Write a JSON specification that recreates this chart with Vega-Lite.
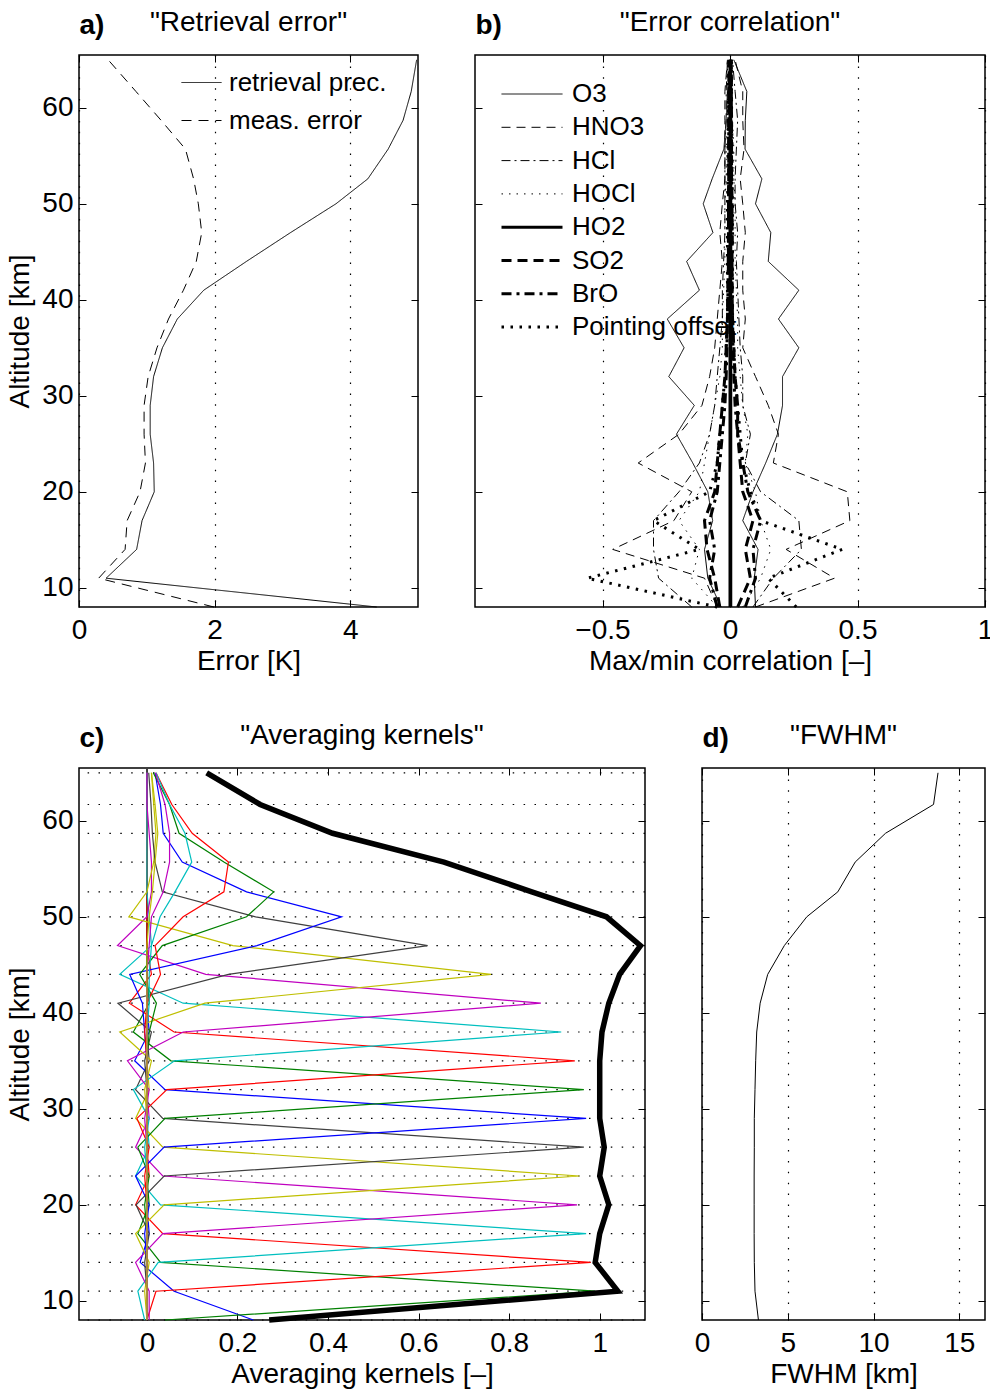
{
  "$schema": "https://vega.github.io/schema/vega-lite/v6.json",
  "background": "white",
  "padding": {"left": 6, "top": 8, "right": 2, "bottom": 5},
  "spacing": 45,
  "resolve": {"scale": {"strokeDash": "independent", "color": "independent"}, "legend": {"strokeDash": "independent"}},
  "config": {
    "font": "Liberation Sans",
    "view": {"stroke": "black", "strokeWidth": 1.5},
    "axis": {"domain": false, "labelFontSize": 28, "labelColor": "black", "titleFontSize": 28, "titleFontWeight": "normal", "titleColor": "black", "tickColor": "black", "tickSize": -7, "tickWidth": 1, "labelFlush": false, "labelOverlap": false, "grid": false, "gridColor": "black", "gridDash": [1.5, 9.4], "gridWidth": 1.2, "gridOpacity": 1},
    "axisBottom": {"labelPadding": 16, "titlePadding": 3},
    "axisLeft": {"labelPadding": 13, "titlePadding": 7},
    "title": {"fontSize": 28, "fontWeight": "normal", "color": "black", "anchor": "middle", "frame": "group", "offset": 0, "baseline": "alphabetic", "dy": 30},
    "legend": {"labelFontSize": 26, "labelColor": "black", "labelLimit": 400, "padding": 0, "symbolType": "stroke", "symbolStrokeColor": "black"}
  },
  "vconcat": [
    {
      "bounds": "flush",
      "spacing": 57,
      "resolve": {"scale": {"strokeDash": "independent"}, "legend": {"strokeDash": "independent"}},
      "hconcat": [
        {
          "width": 339, "height": 552,
          "title": {"text": "\"Retrieval error\""},
          "layer": [
            {
              "data": {"values": [
                {"t":"retrieval prec.","z":8,"e":4.39},{"t":"retrieval prec.","z":11,"e":0.40},{"t":"retrieval prec.","z":14,"e":0.85},{"t":"retrieval prec.","z":17,"e":0.93},{"t":"retrieval prec.","z":20,"e":1.11},{"t":"retrieval prec.","z":23,"e":1.10},{"t":"retrieval prec.","z":26,"e":1.05},{"t":"retrieval prec.","z":29,"e":1.05},{"t":"retrieval prec.","z":32,"e":1.10},{"t":"retrieval prec.","z":35,"e":1.23},{"t":"retrieval prec.","z":38,"e":1.45},{"t":"retrieval prec.","z":41,"e":1.84},{"t":"retrieval prec.","z":44,"e":2.47},{"t":"retrieval prec.","z":47,"e":3.12},{"t":"retrieval prec.","z":50,"e":3.79},{"t":"retrieval prec.","z":52.6,"e":4.26},{"t":"retrieval prec.","z":55.7,"e":4.56},{"t":"retrieval prec.","z":58.7,"e":4.78},{"t":"retrieval prec.","z":61.7,"e":4.90},{"t":"retrieval prec.","z":65,"e":4.98},
                {"t":"meas. error","z":8,"e":1.99},{"t":"meas. error","z":11,"e":0.29},{"t":"meas. error","z":14,"e":0.68},{"t":"meas. error","z":17,"e":0.71},{"t":"meas. error","z":20,"e":0.90},{"t":"meas. error","z":23,"e":0.98},{"t":"meas. error","z":26,"e":0.96},{"t":"meas. error","z":29,"e":0.96},{"t":"meas. error","z":32,"e":1.02},{"t":"meas. error","z":35,"e":1.15},{"t":"meas. error","z":38,"e":1.32},{"t":"meas. error","z":41,"e":1.54},{"t":"meas. error","z":44,"e":1.73},{"t":"meas. error","z":47,"e":1.81},{"t":"meas. error","z":50,"e":1.76},{"t":"meas. error","z":52.6,"e":1.69},{"t":"meas. error","z":55.7,"e":1.57},{"t":"meas. error","z":58.7,"e":1.21},{"t":"meas. error","z":61.7,"e":0.84},{"t":"meas. error","z":65,"e":0.43}
              ]},
              "mark": {"type": "line", "color": "black", "strokeWidth": 1},
              "encoding": {
                "x": {"field": "e", "type": "quantitative", "scale": {"domain": [0, 5], "nice": false, "zero": false}, "axis": {"title": "Error [K]", "values": [0, 2, 4], "grid": true, "format": "~g"}},
                "y": {"field": "z", "type": "quantitative", "scale": {"domain": [8, 65.5], "nice": false, "zero": false}, "axis": {"title": "Altitude [km]", "values": [10, 20, 30, 40, 50, 60]}},
                "strokeDash": {"field": "t", "type": "nominal", "scale": {"domain": ["retrieval prec.", "meas. error"], "range": [[1, 0], [10, 7]]}, "legend": {"title": null, "orient": "none", "legendX": 102, "legendY": 7, "symbolSize": 1600, "symbolStrokeWidth": 1, "labelOffset": 7, "rowPadding": 4}},
                "order": {"field": "z", "type": "quantitative"}
              }
            },
            {
              "data": {"values": [{}]},
              "mark": {"type": "point", "opacity": 0},
              "encoding": {
                "x": {"datum": 0, "type": "quantitative", "scale": {"domain": [0, 5], "nice": false, "zero": false}, "axis": {"orient": "top", "values": [0, 2, 4], "labels": false, "grid": false, "title": "a)", "titleX": 0, "titleY": -22, "titleAlign": "left", "titleBaseline": "alphabetic", "titleFontWeight": "bold"}},
                "y": {"datum": 30, "type": "quantitative", "scale": {"domain": [8, 65.5], "nice": false, "zero": false}, "axis": {"orient": "right", "values": [10, 20, 30, 40, 50, 60], "labels": false, "title": null, "grid": false}}
              }
            }
          ],
          "resolve": {"scale": {"x": "independent", "y": "independent"}}
        },
        {
          "width": 510, "height": 552,
          "title": {"text": "\"Error correlation\""},
          "layer": [
            {
              "data": {"values": [
                {"sp":"O3","z":8,"mx":0.10,"mn":-0.035},{"sp":"O3","z":11,"mx":0.095,"mn":-0.087},{"sp":"O3","z":14,"mx":0.11,"mn":-0.10},{"sp":"O3","z":17,"mx":0.05,"mn":-0.068},{"sp":"O3","z":20,"mx":0.09,"mn":-0.087},{"sp":"O3","z":23,"mx":0.14,"mn":-0.146},{"sp":"O3","z":26,"mx":0.186,"mn":-0.21},{"sp":"O3","z":29,"mx":0.206,"mn":-0.14},{"sp":"O3","z":32,"mx":0.206,"mn":-0.24},{"sp":"O3","z":35,"mx":0.27,"mn":-0.18},{"sp":"O3","z":38,"mx":0.19,"mn":-0.246},{"sp":"O3","z":41,"mx":0.27,"mn":-0.12},{"sp":"O3","z":44,"mx":0.15,"mn":-0.17},{"sp":"O3","z":47,"mx":0.16,"mn":-0.067},{"sp":"O3","z":50,"mx":0.10,"mn":-0.105},{"sp":"O3","z":52.6,"mx":0.125,"mn":-0.07},{"sp":"O3","z":55.7,"mx":0.059,"mn":-0.024},{"sp":"O3","z":58.7,"mx":0.06,"mn":-0.015},{"sp":"O3","z":61.7,"mx":0.066,"mn":-0.01},{"sp":"O3","z":65,"mx":0.015,"mn":0.005},
                {"sp":"HNO3","z":8,"mx":0.10,"mn":-0.05},{"sp":"HNO3","z":11,"mx":0.41,"mn":-0.10},{"sp":"HNO3","z":14,"mx":0.22,"mn":-0.46},{"sp":"HNO3","z":17,"mx":0.47,"mn":-0.22},{"sp":"HNO3","z":20,"mx":0.46,"mn":-0.15},{"sp":"HNO3","z":23,"mx":0.17,"mn":-0.36},{"sp":"HNO3","z":26,"mx":0.19,"mn":-0.20},{"sp":"HNO3","z":29,"mx":0.15,"mn":-0.11},{"sp":"HNO3","z":32,"mx":0.10,"mn":-0.08},{"sp":"HNO3","z":35,"mx":0.05,"mn":-0.06},{"sp":"HNO3","z":38,"mx":0.06,"mn":-0.05},{"sp":"HNO3","z":41,"mx":0.05,"mn":-0.04},{"sp":"HNO3","z":44,"mx":0.05,"mn":-0.03},{"sp":"HNO3","z":47,"mx":0.06,"mn":-0.04},{"sp":"HNO3","z":50,"mx":0.05,"mn":-0.03},{"sp":"HNO3","z":52.6,"mx":0.04,"mn":-0.02},{"sp":"HNO3","z":55.7,"mx":0.055,"mn":-0.02},{"sp":"HNO3","z":58.7,"mx":0.05,"mn":-0.02},{"sp":"HNO3","z":61.7,"mx":0.05,"mn":-0.02},{"sp":"HNO3","z":65,"mx":0.02,"mn":-0.01},
                {"sp":"HCl","z":8,"mx":0.09,"mn":-0.15},{"sp":"HCl","z":11,"mx":0.17,"mn":-0.28},{"sp":"HCl","z":14,"mx":0.28,"mn":-0.30},{"sp":"HCl","z":17,"mx":0.27,"mn":-0.30},{"sp":"HCl","z":20,"mx":0.12,"mn":-0.20},{"sp":"HCl","z":23,"mx":0.06,"mn":-0.12},{"sp":"HCl","z":26,"mx":0.08,"mn":-0.08},{"sp":"HCl","z":29,"mx":0.05,"mn":-0.06},{"sp":"HCl","z":32,"mx":0.05,"mn":-0.05},{"sp":"HCl","z":35,"mx":0.04,"mn":-0.04},{"sp":"HCl","z":38,"mx":0.035,"mn":-0.03},{"sp":"HCl","z":41,"mx":0.03,"mn":-0.03},{"sp":"HCl","z":44,"mx":0.025,"mn":-0.025},{"sp":"HCl","z":47,"mx":0.03,"mn":-0.02},{"sp":"HCl","z":50,"mx":0.02,"mn":-0.02},{"sp":"HCl","z":52.6,"mx":0.02,"mn":-0.02},{"sp":"HCl","z":55.7,"mx":0.025,"mn":-0.02},{"sp":"HCl","z":58.7,"mx":0.03,"mn":-0.015},{"sp":"HCl","z":61.7,"mx":0.02,"mn":-0.015},{"sp":"HCl","z":65,"mx":0.01,"mn":-0.01},
                {"sp":"HOCl","z":8,"mx":0.05,"mn":-0.05},{"sp":"HOCl","z":11,"mx":0.12,"mn":-0.15},{"sp":"HOCl","z":14,"mx":0.16,"mn":-0.12},{"sp":"HOCl","z":17,"mx":0.12,"mn":-0.20},{"sp":"HOCl","z":20,"mx":0.10,"mn":-0.12},{"sp":"HOCl","z":23,"mx":0.06,"mn":-0.10},{"sp":"HOCl","z":26,"mx":0.07,"mn":-0.08},{"sp":"HOCl","z":29,"mx":0.05,"mn":-0.06},{"sp":"HOCl","z":32,"mx":0.04,"mn":-0.04},{"sp":"HOCl","z":35,"mx":0.03,"mn":-0.03},{"sp":"HOCl","z":38,"mx":0.03,"mn":-0.03},{"sp":"HOCl","z":41,"mx":0.025,"mn":-0.025},{"sp":"HOCl","z":44,"mx":0.02,"mn":-0.02},{"sp":"HOCl","z":47,"mx":0.02,"mn":-0.02},{"sp":"HOCl","z":50,"mx":0.02,"mn":-0.02},{"sp":"HOCl","z":52.6,"mx":0.015,"mn":-0.015},{"sp":"HOCl","z":55.7,"mx":0.015,"mn":-0.015},{"sp":"HOCl","z":58.7,"mx":0.01,"mn":-0.01},{"sp":"HOCl","z":61.7,"mx":0.01,"mn":-0.01},{"sp":"HOCl","z":65,"mx":0.01,"mn":-0.01},
                {"sp":"HO2","z":8,"mx":0.003,"mn":0.0},{"sp":"HO2","z":11,"mx":0.003,"mn":0.0},{"sp":"HO2","z":14,"mx":0.003,"mn":0.0},{"sp":"HO2","z":17,"mx":0.003,"mn":0.0},{"sp":"HO2","z":20,"mx":0.003,"mn":0.0},{"sp":"HO2","z":23,"mx":0.003,"mn":0.0},{"sp":"HO2","z":26,"mx":0.003,"mn":0.0},{"sp":"HO2","z":29,"mx":0.003,"mn":0.0},{"sp":"HO2","z":32,"mx":0.003,"mn":0.0},{"sp":"HO2","z":35,"mx":0.003,"mn":0.0},{"sp":"HO2","z":38,"mx":0.003,"mn":0.0},{"sp":"HO2","z":41,"mx":0.003,"mn":0.0},{"sp":"HO2","z":44,"mx":0.003,"mn":0.0},{"sp":"HO2","z":47,"mx":0.003,"mn":0.0},{"sp":"HO2","z":50,"mx":0.003,"mn":0.0},{"sp":"HO2","z":52.6,"mx":0.003,"mn":0.0},{"sp":"HO2","z":55.7,"mx":0.003,"mn":0.0},{"sp":"HO2","z":58.7,"mx":0.003,"mn":0.0},{"sp":"HO2","z":61.7,"mx":0.003,"mn":0.0},{"sp":"HO2","z":65,"mx":0.003,"mn":0.0},
                {"sp":"SO2","z":8,"mx":0.03,"mn":-0.04},{"sp":"SO2","z":11,"mx":0.08,"mn":-0.06},{"sp":"SO2","z":14,"mx":0.06,"mn":-0.09},{"sp":"SO2","z":17,"mx":0.09,"mn":-0.10},{"sp":"SO2","z":20,"mx":0.05,"mn":-0.06},{"sp":"SO2","z":23,"mx":0.04,"mn":-0.05},{"sp":"SO2","z":26,"mx":0.03,"mn":-0.04},{"sp":"SO2","z":29,"mx":0.03,"mn":-0.03},{"sp":"SO2","z":32,"mx":0.02,"mn":-0.02},{"sp":"SO2","z":35,"mx":0.015,"mn":-0.015},{"sp":"SO2","z":38,"mx":0.01,"mn":-0.01},{"sp":"SO2","z":41,"mx":0.008,"mn":-0.008},{"sp":"SO2","z":44,"mx":0.008,"mn":-0.006},{"sp":"SO2","z":47,"mx":0.008,"mn":-0.006},{"sp":"SO2","z":50,"mx":0.008,"mn":-0.006},{"sp":"SO2","z":52.6,"mx":0.006,"mn":-0.005},{"sp":"SO2","z":55.7,"mx":0.006,"mn":-0.005},{"sp":"SO2","z":58.7,"mx":0.006,"mn":-0.005},{"sp":"SO2","z":61.7,"mx":0.005,"mn":-0.004},{"sp":"SO2","z":65,"mx":0.004,"mn":-0.003},
                {"sp":"BrO","z":8,"mx":0.06,"mn":-0.05},{"sp":"BrO","z":11,"mx":0.10,"mn":-0.08},{"sp":"BrO","z":14,"mx":0.09,"mn":-0.06},{"sp":"BrO","z":17,"mx":0.12,"mn":-0.08},{"sp":"BrO","z":20,"mx":0.07,"mn":-0.05},{"sp":"BrO","z":23,"mx":0.05,"mn":-0.04},{"sp":"BrO","z":26,"mx":0.03,"mn":-0.03},{"sp":"BrO","z":29,"mx":0.02,"mn":-0.02},{"sp":"BrO","z":32,"mx":0.015,"mn":-0.015},{"sp":"BrO","z":35,"mx":0.012,"mn":-0.012},{"sp":"BrO","z":38,"mx":0.01,"mn":-0.01},{"sp":"BrO","z":41,"mx":0.008,"mn":-0.008},{"sp":"BrO","z":44,"mx":0.008,"mn":-0.007},{"sp":"BrO","z":47,"mx":0.008,"mn":-0.006},{"sp":"BrO","z":50,"mx":0.007,"mn":-0.006},{"sp":"BrO","z":52.6,"mx":0.006,"mn":-0.005},{"sp":"BrO","z":55.7,"mx":0.006,"mn":-0.005},{"sp":"BrO","z":58.7,"mx":0.005,"mn":-0.005},{"sp":"BrO","z":61.7,"mx":0.005,"mn":-0.004},{"sp":"BrO","z":65,"mx":0.004,"mn":-0.003},
                {"sp":"Pointing offset","z":8,"mx":0.26,"mn":-0.05},{"sp":"Pointing offset","z":11,"mx":0.15,"mn":-0.56},{"sp":"Pointing offset","z":14,"mx":0.44,"mn":-0.12},{"sp":"Pointing offset","z":17,"mx":0.12,"mn":-0.30},{"sp":"Pointing offset","z":20,"mx":0.08,"mn":-0.08},{"sp":"Pointing offset","z":23,"mx":0.05,"mn":-0.05},{"sp":"Pointing offset","z":26,"mx":0.04,"mn":-0.04},{"sp":"Pointing offset","z":29,"mx":0.03,"mn":-0.03},{"sp":"Pointing offset","z":32,"mx":0.02,"mn":-0.02},{"sp":"Pointing offset","z":35,"mx":0.015,"mn":-0.015},{"sp":"Pointing offset","z":38,"mx":0.01,"mn":-0.01},{"sp":"Pointing offset","z":41,"mx":0.01,"mn":-0.01},{"sp":"Pointing offset","z":44,"mx":0.01,"mn":-0.01},{"sp":"Pointing offset","z":47,"mx":0.01,"mn":-0.01},{"sp":"Pointing offset","z":50,"mx":0.01,"mn":-0.01},{"sp":"Pointing offset","z":52.6,"mx":0.008,"mn":-0.008},{"sp":"Pointing offset","z":55.7,"mx":0.008,"mn":-0.008},{"sp":"Pointing offset","z":58.7,"mx":0.006,"mn":-0.006},{"sp":"Pointing offset","z":61.7,"mx":0.006,"mn":-0.006},{"sp":"Pointing offset","z":65,"mx":0.005,"mn":-0.005}
              ]},
              "transform": [{"fold": ["mx", "mn"], "as": ["b", "r"]}],
              "encoding": {
                "x": {"field": "r", "type": "quantitative", "scale": {"domain": [-1, 1], "nice": false, "zero": false}, "axis": {"title": "Max/min correlation [–]", "values": [-0.5, 0, 0.5, 1], "grid": true, "format": "~g"}},
                "y": {"field": "z", "type": "quantitative", "scale": {"domain": [8, 65.5], "nice": false, "zero": false}, "axis": {"title": null, "labels": false, "values": [10, 20, 30, 40, 50, 60]}},
                "strokeDash": {"field": "sp", "type": "nominal", "scale": {"domain": ["O3", "HNO3", "HCl", "HOCl", "HO2", "SO2", "BrO", "Pointing offset"], "range": [[1, 0], [9, 6], [9, 4, 2, 4], [1.5, 6], [1, 0], [10, 6], [10, 5, 3, 5], [2.5, 6.5]]}, "legend": {"title": null, "orient": "none", "legendX": 44, "legendY": 26, "symbolSize": 3721, "labelOffset": 27, "rowPadding": 7.3, "encode": {"symbols": {"update": {"strokeWidth": {"signal": "indexof(['HO2','SO2','BrO','Pointing offset'], datum.value) >= 0 ? 3 : 1"}}}}}},
                "detail": {"field": "b"},
                "order": {"field": "z", "type": "quantitative"}
              },
              "layer": [
                {"transform": [{"filter": {"field": "sp", "oneOf": ["O3", "HNO3", "HCl", "HOCl"]}}], "mark": {"type": "line", "color": "black", "strokeWidth": 1}},
                {"transform": [{"filter": {"field": "sp", "oneOf": ["HO2", "SO2", "BrO", "Pointing offset"]}}], "mark": {"type": "line", "color": "black", "strokeWidth": 3}}
              ]
            },
            {
              "data": {"values": [{}]},
              "mark": {"type": "point", "opacity": 0},
              "encoding": {
                "x": {"datum": 0, "type": "quantitative", "scale": {"domain": [-1, 1], "nice": false, "zero": false}, "axis": {"orient": "top", "values": [-0.5, 0, 0.5, 1], "labels": false, "grid": false, "title": "b)", "titleX": 0, "titleY": -22, "titleAlign": "left", "titleBaseline": "alphabetic", "titleFontWeight": "bold"}},
                "y": {"datum": 30, "type": "quantitative", "scale": {"domain": [8, 65.5], "nice": false, "zero": false}, "axis": {"orient": "right", "values": [10, 20, 30, 40, 50, 60], "labels": false, "title": null, "grid": false}}
              }
            }
          ],
          "resolve": {"scale": {"x": "independent", "y": "independent"}}
        }
      ]
    },
    {
      "bounds": "flush",
      "spacing": 57,
      "resolve": {"scale": {"color": "independent"}},
      "hconcat": [
        {
          "width": 566, "height": 552,
          "title": {"text": "\"Averaging kernels\""},
          "layer": [
            {
              "data": {"values": [
                {"z":8,"s":0.27,"k08":0.235,"k11":0.04,"k14":0,"k17":-0.005,"k20":0.005,"k23":0,"k26":0,"k29":0,"k32":0,"k35":0,"k38":0,"k41":0,"k44":0,"k47":0,"k50":0,"k52":0,"k55":0,"k58":0,"k61":0,"k65":0},
                {"z":11,"s":1.04,"k08":0.06,"k11":0.99,"k14":0.02,"k17":-0.02,"k20":0.005,"k23":-0.005,"k26":0,"k29":0,"k32":0,"k35":0,"k38":0,"k41":0,"k44":0,"k47":0,"k50":0,"k52":0,"k55":0,"k58":0,"k61":0,"k65":0},
                {"z":14,"s":0.99,"k08":-0.015,"k11":0.03,"k14":0.98,"k17":0.025,"k20":-0.025,"k23":0.005,"k26":-0.005,"k29":0,"k32":0,"k35":0,"k38":0,"k41":0,"k44":0,"k47":0,"k50":0,"k52":0,"k55":0,"k58":0,"k61":0,"k65":0},
                {"z":17,"s":1.0,"k08":0.005,"k11":-0.02,"k14":0.035,"k17":0.97,"k20":0.035,"k23":-0.025,"k26":0.005,"k29":-0.005,"k32":0,"k35":0,"k38":0,"k41":0,"k44":0,"k47":0,"k50":0,"k52":0,"k55":0,"k58":0,"k61":0,"k65":0},
                {"z":20,"s":1.02,"k08":0,"k11":0.005,"k14":-0.025,"k17":0.03,"k20":0.95,"k23":0.038,"k26":-0.024,"k29":0.005,"k32":-0.005,"k35":0,"k38":0,"k41":0,"k44":0,"k47":0,"k50":0,"k52":0,"k55":0,"k58":0,"k61":0,"k65":0},
                {"z":23,"s":1.0,"k08":0,"k11":0,"k14":0.005,"k17":-0.025,"k20":0.035,"k23":0.955,"k26":0.038,"k29":-0.025,"k32":0.005,"k35":-0.005,"k38":0,"k41":0,"k44":0,"k47":0,"k50":0,"k52":0,"k55":0,"k58":0,"k61":0,"k65":0},
                {"z":26,"s":1.01,"k08":0,"k11":0,"k14":0,"k17":0.005,"k20":-0.025,"k23":0.035,"k26":0.965,"k29":0.038,"k32":-0.02,"k35":0.005,"k38":-0.005,"k41":0,"k44":0,"k47":0,"k50":0,"k52":0,"k55":0,"k58":0,"k61":0,"k65":0},
                {"z":29,"s":1.0,"k08":0,"k11":0,"k14":0,"k17":0,"k20":0.005,"k23":-0.025,"k26":0.035,"k29":0.97,"k32":0.04,"k35":-0.022,"k38":0.005,"k41":-0.005,"k44":0,"k47":0,"k50":0,"k52":0,"k55":0,"k58":0,"k61":0,"k65":0},
                {"z":32,"s":1.0,"k08":0,"k11":0,"k14":0,"k17":0,"k20":0,"k23":0.005,"k26":-0.025,"k29":0.04,"k32":0.965,"k35":0.044,"k38":-0.03,"k41":0.005,"k44":-0.005,"k47":0,"k50":0,"k52":0,"k55":0,"k58":0,"k61":0,"k65":0},
                {"z":35,"s":1.0,"k08":0,"k11":0,"k14":0,"k17":0,"k20":0,"k23":0,"k26":0.005,"k29":-0.027,"k32":0.053,"k35":0.945,"k38":0.061,"k41":-0.043,"k44":0.01,"k47":-0.005,"k50":0,"k52":0,"k55":0,"k58":0,"k61":0,"k65":0},
                {"z":38,"s":1.005,"k08":0,"k11":0,"k14":0,"k17":0,"k20":0,"k23":0,"k26":0,"k29":0.005,"k32":-0.03,"k35":0.06,"k38":0.915,"k41":0.08,"k44":-0.06,"k47":0.01,"k50":-0.005,"k52":0.005,"k55":-0.005,"k58":0,"k61":0,"k65":0},
                {"z":41,"s":1.02,"k08":0,"k11":0,"k14":0,"k17":0,"k20":0,"k23":0,"k26":0,"k29":0,"k32":0.005,"k35":-0.039,"k38":0.08,"k41":0.87,"k44":0.128,"k47":-0.064,"k50":-0.01,"k52":0.021,"k55":0,"k58":0.005,"k61":0,"k65":0},
                {"z":44,"s":1.044,"k08":0,"k11":0,"k14":0,"k17":0,"k20":0,"k23":0,"k26":0,"k29":0,"k32":0,"k35":0.01,"k38":-0.06,"k41":0.13,"k44":0.76,"k47":0.18,"k50":-0.038,"k52":-0.016,"k55":0.03,"k58":0.005,"k61":0,"k65":0},
                {"z":47,"s":1.09,"k08":0,"k11":0,"k14":0,"k17":0,"k20":0,"k23":0,"k26":0,"k29":0,"k32":0,"k35":0,"k38":0.01,"k41":-0.065,"k44":0.19,"k47":0.62,"k50":0.243,"k52":0.034,"k55":0.018,"k58":0.01,"k61":0.005,"k65":0},
                {"z":50,"s":1.015,"k08":0,"k11":0,"k14":0,"k17":0,"k20":0,"k23":0,"k26":0,"k29":0,"k32":0,"k35":0,"k38":0.005,"k41":0,"k44":-0.04,"k47":0.24,"k50":0.43,"k52":0.22,"k55":0.08,"k58":0.029,"k61":0.01,"k65":0.005},
                {"z":52.6,"s":0.85,"k08":0,"k11":0,"k14":0,"k17":0,"k20":0,"k23":0,"k26":0,"k29":0,"k32":0,"k35":0,"k38":0,"k41":0.01,"k44":0,"k47":0.034,"k50":0.22,"k52":0.28,"k55":0.17,"k58":0.062,"k61":0.036,"k65":0.012},
                {"z":55.7,"s":0.656,"k08":0,"k11":0,"k14":0,"k17":0,"k20":0,"k23":0,"k26":0,"k29":0,"k32":0,"k35":0,"k38":0,"k41":0.01,"k44":0.015,"k47":0.018,"k50":0.078,"k52":0.17,"k55":0.18,"k58":0.099,"k61":0.05,"k65":0.018},
                {"z":58.7,"s":0.41,"k08":0,"k11":0,"k14":0,"k17":0,"k20":0,"k23":0,"k26":0,"k29":0,"k32":0,"k35":0,"k38":0,"k41":0.005,"k44":0.02,"k47":0.012,"k50":0.036,"k52":0.071,"k55":0.10,"k58":0.084,"k61":0.05,"k65":0.024},
                {"z":61.7,"s":0.25,"k08":0,"k11":0,"k14":0,"k17":0,"k20":0,"k23":0,"k26":0,"k29":0,"k32":0,"k35":0,"k38":0,"k41":0,"k44":0.015,"k47":0.009,"k50":0.03,"k52":0.05,"k55":0.055,"k58":0.05,"k61":0.04,"k65":0.018},
                {"z":65,"s":0.132,"k08":0,"k11":0,"k14":0,"k17":0,"k20":0,"k23":0,"k26":0,"k29":0,"k32":0,"k35":0,"k38":0,"k41":0,"k44":0.01,"k47":0.004,"k50":0.018,"k52":0.014,"k55":0.02,"k58":0.02,"k61":0.019,"k65":0.01}
              ]},
              "layer": [
                {
                  "mark": {"type": "rule", "color": "black", "strokeDash": [1.5, 9.4], "strokeWidth": 1.2},
                  "encoding": {
                    "y": {"field": "z", "type": "quantitative", "scale": {"domain": [8, 65.5], "nice": false, "zero": false}, "axis": {"title": "Altitude [km]", "values": [10, 20, 30, 40, 50, 60]}}
                  }
                },
                {
                  "mark": {"type": "rule", "color": "#404040", "strokeWidth": 1},
                  "encoding": {"x": {"datum": 0, "type": "quantitative"}}
                },
                {
                  "transform": [{"fold": ["k08","k11","k14","k17","k20","k23","k26","k29","k32","k35","k38","k41","k44","k47","k50","k52","k55","k58","k61","k65"], "as": ["k", "v"]}],
                  "mark": {"type": "line", "strokeWidth": 1.2},
                  "encoding": {
                    "x": {"field": "v", "type": "quantitative", "scale": {"domain": [-0.15, 1.1], "nice": false, "zero": false}, "axis": {"title": "Averaging kernels [–]", "values": [0, 0.2, 0.4, 0.6, 0.8, 1], "format": "~g"}},
                    "y": {"field": "z", "type": "quantitative"},
                    "color": {"field": "k", "type": "nominal", "legend": null, "scale": {"domain": ["k08","k11","k14","k17","k20","k23","k26","k29","k32","k35","k38","k41","k44","k47","k50","k52","k55","k58","k61","k65"], "range": ["#0000FF","#008000","#FF0000","#00BFBF","#BF00BF","#BFBF00","#404040","#0000FF","#008000","#FF0000","#00BFBF","#BF00BF","#BFBF00","#404040","#0000FF","#008000","#FF0000","#00BFBF","#BF00BF","#BFBF00"]}},
                    "order": {"field": "z", "type": "quantitative"}
                  }
                },
                {
                  "mark": {"type": "line", "color": "black", "strokeWidth": 5.5},
                  "encoding": {
                    "x": {"field": "s", "type": "quantitative"},
                    "y": {"field": "z", "type": "quantitative"},
                    "order": {"field": "z", "type": "quantitative"}
                  }
                }
              ]
            },
            {
              "data": {"values": [{}]},
              "mark": {"type": "point", "opacity": 0},
              "encoding": {
                "x": {"datum": 0, "type": "quantitative", "scale": {"domain": [-0.15, 1.1], "nice": false, "zero": false}, "axis": {"orient": "top", "values": [0, 0.2, 0.4, 0.6, 0.8, 1], "labels": false, "grid": false, "title": "c)", "titleX": 0, "titleY": -22, "titleAlign": "left", "titleBaseline": "alphabetic", "titleFontWeight": "bold"}},
                "y": {"datum": 30, "type": "quantitative", "scale": {"domain": [8, 65.5], "nice": false, "zero": false}, "axis": {"orient": "right", "values": [10, 20, 30, 40, 50, 60], "labels": false, "title": null, "grid": false}}
              }
            }
          ],
          "resolve": {"scale": {"x": "independent", "y": "independent"}}
        },
        {
          "width": 283, "height": 552,
          "title": {"text": "\"FWHM\""},
          "layer": [
            {
              "data": {"values": [
                {"z":8,"f":3.29},{"z":11,"f":3.09},{"z":14,"f":3.05},{"z":17,"f":3.04},{"z":20,"f":3.04},{"z":23,"f":3.04},{"z":26,"f":3.05},{"z":29,"f":3.05},{"z":32,"f":3.09},{"z":35,"f":3.13},{"z":38,"f":3.19},{"z":41,"f":3.39},{"z":44,"f":3.83},{"z":47,"f":4.8},{"z":50,"f":6.11},{"z":52.6,"f":7.92},{"z":55.7,"f":8.93},{"z":58.7,"f":10.7},{"z":61.7,"f":13.5},{"z":65,"f":13.76}
              ]},
              "mark": {"type": "line", "color": "black", "strokeWidth": 1},
              "encoding": {
                "x": {"field": "f", "type": "quantitative", "scale": {"domain": [0, 16.5], "nice": false, "zero": false}, "axis": {"title": "FWHM [km]", "values": [0, 5, 10, 15], "grid": true, "format": "~g"}},
                "y": {"field": "z", "type": "quantitative", "scale": {"domain": [8, 65.5], "nice": false, "zero": false}, "axis": {"title": null, "labels": false, "values": [10, 20, 30, 40, 50, 60]}},
                "order": {"field": "z", "type": "quantitative"}
              }
            },
            {
              "data": {"values": [{}]},
              "mark": {"type": "point", "opacity": 0},
              "encoding": {
                "x": {"datum": 0, "type": "quantitative", "scale": {"domain": [0, 16.5], "nice": false, "zero": false}, "axis": {"orient": "top", "values": [0, 5, 10, 15], "labels": false, "grid": false, "title": "d)", "titleX": 0, "titleY": -22, "titleAlign": "left", "titleBaseline": "alphabetic", "titleFontWeight": "bold"}},
                "y": {"datum": 30, "type": "quantitative", "scale": {"domain": [8, 65.5], "nice": false, "zero": false}, "axis": {"orient": "right", "values": [10, 20, 30, 40, 50, 60], "labels": false, "title": null, "grid": false}}
              }
            }
          ],
          "resolve": {"scale": {"x": "independent", "y": "independent"}}
        }
      ]
    }
  ]
}
